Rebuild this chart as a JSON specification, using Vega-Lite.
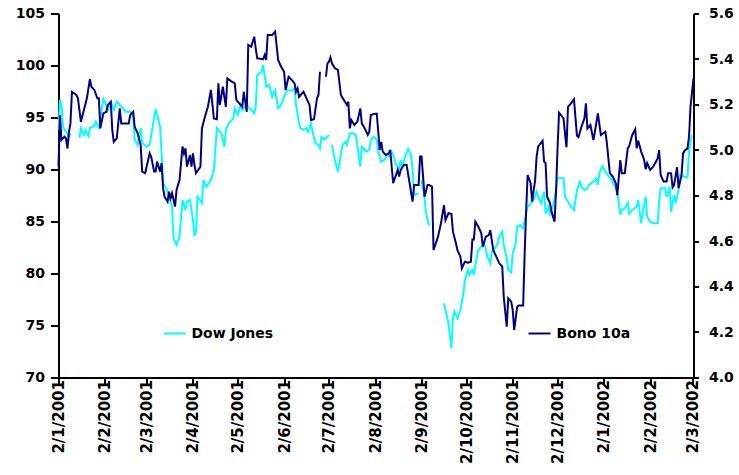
{
  "$schema": "https://vega.github.io/schema/vega-lite/v6.json",
  "width": 635,
  "height": 364,
  "autosize": {"type": "none"},
  "padding": {"left": 58.5, "top": 13.5, "right": 45.5, "bottom": 97.5},
  "background": "white",
  "config": {
    "view": {"stroke": null},
    "font": "DejaVu Sans",
    "axis": {
      "grid": false,
      "domainColor": "black",
      "domainWidth": 2,
      "tickColor": "black",
      "tickWidth": 2,
      "labelColor": "black",
      "labelFont": "DejaVu Sans",
      "labelFontSize": 14,
      "labelFontWeight": "bold",
      "title": null
    },
    "legend": {
      "labelFont": "DejaVu Sans",
      "labelFontSize": 14,
      "labelFontWeight": "bold",
      "labelColor": "black",
      "symbolType": "stroke",
      "symbolSize": 484,
      "symbolStrokeWidth": 2,
      "labelOffset": 5,
      "padding": 0
    }
  },
  "datasets": {
    "dow": [
      {"fecha": "2001-01-02", "dow": 93.80}, {"fecha": "2001-01-03", "dow": 96.68}, {"fecha": "2001-01-04", "dow": 96.20},
      {"fecha": "2001-01-05", "dow": 94.12}, {"fecha": "2001-01-06", "dow": 93.80}, {"fecha": "2001-01-08", "dow": 93.51},
      {"fecha": "2001-01-09", "dow": 93.03}, {"fecha": "2001-01-10", "dow": 93.51}, {"fecha": "2001-01-12", "dow": null},
      {"fecha": "2001-01-16", "dow": 93.03}, {"fecha": "2001-01-17", "dow": 93.99}, {"fecha": "2001-01-19", "dow": 93.32},
      {"fecha": "2001-01-20", "dow": 93.80}, {"fecha": "2001-01-22", "dow": 93.22}, {"fecha": "2001-01-23", "dow": 93.99},
      {"fecha": "2001-01-26", "dow": 94.18}, {"fecha": "2001-01-27", "dow": 94.60}, {"fecha": "2001-01-29", "dow": 93.99},
      {"fecha": "2001-01-31", "dow": 95.91}, {"fecha": "2001-02-01", "dow": 96.78}, {"fecha": "2001-02-03", "dow": 96.20},
      {"fecha": "2001-02-04", "dow": 95.72}, {"fecha": "2001-02-06", "dow": 96.52}, {"fecha": "2001-02-08", "dow": 95.72},
      {"fecha": "2001-02-10", "dow": 96.52}, {"fecha": "2001-02-12", "dow": 96.20}, {"fecha": "2001-02-14", "dow": 95.91},
      {"fecha": "2001-02-16", "dow": 95.56}, {"fecha": "2001-02-19", "dow": 95.56}, {"fecha": "2001-02-21", "dow": 95.08},
      {"fecha": "2001-02-22", "dow": 92.84}, {"fecha": "2001-02-24", "dow": 92.36}, {"fecha": "2001-02-26", "dow": 93.99},
      {"fecha": "2001-02-27", "dow": 92.55}, {"fecha": "2001-03-02", "dow": 92.19}, {"fecha": "2001-03-04", "dow": 92.36},
      {"fecha": "2001-03-06", "dow": 94.12}, {"fecha": "2001-03-08", "dow": 95.79}, {"fecha": "2001-03-11", "dow": 94.12},
      {"fecha": "2001-03-12", "dow": 91.59}, {"fecha": "2001-03-13", "dow": 88.70}, {"fecha": "2001-03-15", "dow": 88.22},
      {"fecha": "2001-03-16", "dow": 87.87}, {"fecha": "2001-03-18", "dow": 86.90}, {"fecha": "2001-03-19", "dow": 86.42},
      {"fecha": "2001-03-20", "dow": 83.38}, {"fecha": "2001-03-22", "dow": 82.74}, {"fecha": "2001-03-24", "dow": 83.54},
      {"fecha": "2001-03-26", "dow": 87.07}, {"fecha": "2001-03-28", "dow": 86.11}, {"fecha": "2001-03-29", "dow": 86.90},
      {"fecha": "2001-03-31", "dow": 87.07}, {"fecha": "2001-04-02", "dow": 85.14}, {"fecha": "2001-04-03", "dow": 83.70},
      {"fecha": "2001-04-04", "dow": 83.89}, {"fecha": "2001-04-05", "dow": 87.38}, {"fecha": "2001-04-08", "dow": 86.75},
      {"fecha": "2001-04-09", "dow": 88.99}, {"fecha": "2001-04-11", "dow": 88.35}, {"fecha": "2001-04-14", "dow": 88.99},
      {"fecha": "2001-04-16", "dow": 89.95}, {"fecha": "2001-04-18", "dow": 93.99}, {"fecha": "2001-04-21", "dow": 93.48},
      {"fecha": "2001-04-23", "dow": 92.19}, {"fecha": "2001-04-24", "dow": 93.80}, {"fecha": "2001-04-26", "dow": 94.44},
      {"fecha": "2001-04-29", "dow": 94.92}, {"fecha": "2001-04-30", "dow": 95.88}, {"fecha": "2001-05-02", "dow": 95.24},
      {"fecha": "2001-05-04", "dow": 96.20}, {"fecha": "2001-05-05", "dow": 95.72}, {"fecha": "2001-05-08", "dow": 96.20},
      {"fecha": "2001-05-10", "dow": 95.88}, {"fecha": "2001-05-13", "dow": 95.40}, {"fecha": "2001-05-14", "dow": 96.04},
      {"fecha": "2001-05-15", "dow": 99.09}, {"fecha": "2001-05-18", "dow": 99.40}, {"fecha": "2001-05-19", "dow": 100.05},
      {"fecha": "2001-05-21", "dow": 97.96}, {"fecha": "2001-05-23", "dow": 98.13}, {"fecha": "2001-05-25", "dow": 97.00},
      {"fecha": "2001-05-27", "dow": 97.64}, {"fecha": "2001-05-29", "dow": 95.88}, {"fecha": "2001-05-31", "dow": 96.20},
      {"fecha": "2001-06-02", "dow": 97.00}, {"fecha": "2001-06-04", "dow": 97.64}, {"fecha": "2001-06-07", "dow": 97.58},
      {"fecha": "2001-06-09", "dow": 97.81}, {"fecha": "2001-06-10", "dow": 96.20}, {"fecha": "2001-06-12", "dow": 94.44},
      {"fecha": "2001-06-13", "dow": 93.96}, {"fecha": "2001-06-15", "dow": 93.80}, {"fecha": "2001-06-17", "dow": 93.96},
      {"fecha": "2001-06-18", "dow": 93.63}, {"fecha": "2001-06-20", "dow": 94.44}, {"fecha": "2001-06-21", "dow": 93.63},
      {"fecha": "2001-06-23", "dow": 92.52}, {"fecha": "2001-06-25", "dow": 92.36}, {"fecha": "2001-06-26", "dow": 92.04},
      {"fecha": "2001-06-27", "dow": 93.15}, {"fecha": "2001-06-29", "dow": 92.90}, {"fecha": "2001-07-01", "dow": 93.15},
      {"fecha": "2001-07-02", "dow": 93.32}, {"fecha": "2001-07-03", "dow": null}, {"fecha": "2001-07-04", "dow": 92.36},
      {"fecha": "2001-07-06", "dow": 90.91}, {"fecha": "2001-07-08", "dow": 89.79}, {"fecha": "2001-07-09", "dow": 90.60},
      {"fecha": "2001-07-11", "dow": 92.36}, {"fecha": "2001-07-13", "dow": 92.67}, {"fecha": "2001-07-14", "dow": 92.36},
      {"fecha": "2001-07-16", "dow": 93.48}, {"fecha": "2001-07-18", "dow": 93.48}, {"fecha": "2001-07-20", "dow": 93.32},
      {"fecha": "2001-07-23", "dow": 90.27}, {"fecha": "2001-07-24", "dow": 92.19}, {"fecha": "2001-07-25", "dow": 92.04},
      {"fecha": "2001-07-27", "dow": 91.71}, {"fecha": "2001-07-29", "dow": 91.88}, {"fecha": "2001-07-30", "dow": 92.84},
      {"fecha": "2001-08-01", "dow": 93.15}, {"fecha": "2001-08-03", "dow": 92.84}, {"fecha": "2001-08-04", "dow": 91.71},
      {"fecha": "2001-08-06", "dow": 90.75}, {"fecha": "2001-08-08", "dow": 90.91}, {"fecha": "2001-08-10", "dow": 91.39},
      {"fecha": "2001-08-12", "dow": 91.23}, {"fecha": "2001-08-13", "dow": 91.71}, {"fecha": "2001-08-14", "dow": 91.39},
      {"fecha": "2001-08-16", "dow": 90.43}, {"fecha": "2001-08-18", "dow": 90.12}, {"fecha": "2001-08-19", "dow": 90.91},
      {"fecha": "2001-08-20", "dow": 90.12}, {"fecha": "2001-08-22", "dow": 91.23}, {"fecha": "2001-08-24", "dow": 91.97},
      {"fecha": "2001-08-26", "dow": 91.39}, {"fecha": "2001-08-27", "dow": 89.95}, {"fecha": "2001-08-28", "dow": 87.55},
      {"fecha": "2001-08-31", "dow": 87.71}, {"fecha": "2001-09-01", "dow": null}, {"fecha": "2001-09-02", "dow": 88.99},
      {"fecha": "2001-09-04", "dow": 87.23}, {"fecha": "2001-09-05", "dow": 85.79}, {"fecha": "2001-09-07", "dow": 84.60},
      {"fecha": "2001-09-11", "dow": null}, {"fecha": "2001-09-17", "dow": 77.13}, {"fecha": "2001-09-20", "dow": 75.21},
      {"fecha": "2001-09-22", "dow": 72.81}, {"fecha": "2001-09-23", "dow": 75.69}, {"fecha": "2001-09-24", "dow": 76.33},
      {"fecha": "2001-09-26", "dow": 75.69}, {"fecha": "2001-09-28", "dow": 76.49}, {"fecha": "2001-09-30", "dow": 78.10},
      {"fecha": "2001-10-01", "dow": 79.38}, {"fecha": "2001-10-03", "dow": 80.34}, {"fecha": "2001-10-04", "dow": 79.86},
      {"fecha": "2001-10-06", "dow": 80.34}, {"fecha": "2001-10-07", "dow": 79.86}, {"fecha": "2001-10-09", "dow": 81.62},
      {"fecha": "2001-10-10", "dow": 82.26}, {"fecha": "2001-10-12", "dow": 82.58}, {"fecha": "2001-10-14", "dow": 82.90},
      {"fecha": "2001-10-16", "dow": 81.62}, {"fecha": "2001-10-18", "dow": 80.98}, {"fecha": "2001-10-19", "dow": 82.10},
      {"fecha": "2001-10-21", "dow": 82.42}, {"fecha": "2001-10-23", "dow": 82.90}, {"fecha": "2001-10-24", "dow": 83.54},
      {"fecha": "2001-10-26", "dow": 84.02}, {"fecha": "2001-10-27", "dow": 82.74}, {"fecha": "2001-10-29", "dow": 81.46},
      {"fecha": "2001-10-30", "dow": 80.34}, {"fecha": "2001-11-01", "dow": 80.08}, {"fecha": "2001-11-02", "dow": 81.94},
      {"fecha": "2001-11-04", "dow": 82.90}, {"fecha": "2001-11-05", "dow": 84.50}, {"fecha": "2001-11-07", "dow": 84.66},
      {"fecha": "2001-11-09", "dow": 84.35}, {"fecha": "2001-11-10", "dow": 85.14}, {"fecha": "2001-11-12", "dow": 86.42},
      {"fecha": "2001-11-14", "dow": 86.75}, {"fecha": "2001-11-16", "dow": 87.07}, {"fecha": "2001-11-18", "dow": 87.87},
      {"fecha": "2001-11-19", "dow": 87.38}, {"fecha": "2001-11-21", "dow": 86.75}, {"fecha": "2001-11-23", "dow": 87.87},
      {"fecha": "2001-11-24", "dow": 85.79}, {"fecha": "2001-11-26", "dow": 86.42}, {"fecha": "2001-11-27", "dow": 85.72},
      {"fecha": "2001-11-29", "dow": 86.59}, {"fecha": "2001-11-30", "dow": 87.13}, {"fecha": "2001-12-02", "dow": 89.15},
      {"fecha": "2001-12-04", "dow": 89.15}, {"fecha": "2001-12-06", "dow": 89.15}, {"fecha": "2001-12-07", "dow": 87.38},
      {"fecha": "2001-12-09", "dow": 86.90}, {"fecha": "2001-12-11", "dow": 86.42}, {"fecha": "2001-12-13", "dow": 86.11},
      {"fecha": "2001-12-15", "dow": 88.03}, {"fecha": "2001-12-17", "dow": 88.83}, {"fecha": "2001-12-18", "dow": 88.35},
      {"fecha": "2001-12-20", "dow": 88.03}, {"fecha": "2001-12-22", "dow": 88.19}, {"fecha": "2001-12-23", "dow": 88.51},
      {"fecha": "2001-12-26", "dow": 88.83}, {"fecha": "2001-12-28", "dow": 89.15}, {"fecha": "2001-12-29", "dow": 88.51},
      {"fecha": "2001-12-30", "dow": 89.63}, {"fecha": "2002-01-01", "dow": 90.34}, {"fecha": "2002-01-03", "dow": 89.79},
      {"fecha": "2002-01-05", "dow": 89.38}, {"fecha": "2002-01-07", "dow": 89.06}, {"fecha": "2002-01-09", "dow": 88.51},
      {"fecha": "2002-01-11", "dow": 87.87}, {"fecha": "2002-01-13", "dow": 85.63}, {"fecha": "2002-01-14", "dow": 86.11},
      {"fecha": "2002-01-16", "dow": 86.27}, {"fecha": "2002-01-18", "dow": 86.81}, {"fecha": "2002-01-19", "dow": 85.72},
      {"fecha": "2002-01-21", "dow": 86.11}, {"fecha": "2002-01-24", "dow": 86.42}, {"fecha": "2002-01-25", "dow": 87.07},
      {"fecha": "2002-01-27", "dow": 84.83}, {"fecha": "2002-01-28", "dow": 85.79}, {"fecha": "2002-01-30", "dow": 87.38},
      {"fecha": "2002-01-31", "dow": 85.46}, {"fecha": "2002-02-02", "dow": 84.98}, {"fecha": "2002-02-04", "dow": 84.83},
      {"fecha": "2002-02-07", "dow": 84.83}, {"fecha": "2002-02-08", "dow": 86.90}, {"fecha": "2002-02-09", "dow": 88.19},
      {"fecha": "2002-02-12", "dow": 88.19}, {"fecha": "2002-02-13", "dow": 87.38}, {"fecha": "2002-02-15", "dow": 88.35},
      {"fecha": "2002-02-16", "dow": 85.94}, {"fecha": "2002-02-18", "dow": 87.55}, {"fecha": "2002-02-19", "dow": 86.75},
      {"fecha": "2002-02-21", "dow": 88.03}, {"fecha": "2002-02-22", "dow": 89.47}, {"fecha": "2002-02-25", "dow": 89.31},
      {"fecha": "2002-02-27", "dow": 89.25}, {"fecha": "2002-02-28", "dow": 91.71}, {"fecha": "2002-03-01", "dow": 92.84},
      {"fecha": "2002-03-02", "dow": 93.32}
    ],
    "bono": [
      {"fecha": "2001-01-02", "bono": 4.927}, {"fecha": "2001-01-03", "bono": 5.154}, {"fecha": "2001-01-04", "bono": 5.044},
      {"fecha": "2001-01-06", "bono": 5.058}, {"fecha": "2001-01-07", "bono": 5.051}, {"fecha": "2001-01-08", "bono": 5.007},
      {"fecha": "2001-01-09", "bono": 5.080}, {"fecha": "2001-01-10", "bono": 5.117}, {"fecha": "2001-01-11", "bono": 5.256},
      {"fecha": "2001-01-14", "bono": 5.242}, {"fecha": "2001-01-15", "bono": 5.227}, {"fecha": "2001-01-17", "bono": 5.124},
      {"fecha": "2001-01-19", "bono": 5.176}, {"fecha": "2001-01-21", "bono": 5.227}, {"fecha": "2001-01-23", "bono": 5.311},
      {"fecha": "2001-01-24", "bono": 5.278}, {"fecha": "2001-01-26", "bono": 5.264}, {"fecha": "2001-01-28", "bono": 5.227},
      {"fecha": "2001-01-29", "bono": 5.227}, {"fecha": "2001-01-30", "bono": 5.095}, {"fecha": "2001-02-01", "bono": 5.161},
      {"fecha": "2001-02-03", "bono": 5.168}, {"fecha": "2001-02-04", "bono": 5.198}, {"fecha": "2001-02-06", "bono": 5.212},
      {"fecha": "2001-02-07", "bono": 5.088}, {"fecha": "2001-02-08", "bono": 5.036}, {"fecha": "2001-02-10", "bono": 5.051},
      {"fecha": "2001-02-12", "bono": 5.183}, {"fecha": "2001-02-13", "bono": 5.117}, {"fecha": "2001-02-15", "bono": 5.117},
      {"fecha": "2001-02-18", "bono": 5.117}, {"fecha": "2001-02-19", "bono": 5.154}, {"fecha": "2001-02-21", "bono": 5.168},
      {"fecha": "2001-02-22", "bono": 5.102}, {"fecha": "2001-02-24", "bono": 5.073}, {"fecha": "2001-02-26", "bono": 5.022},
      {"fecha": "2001-02-27", "bono": 4.905}, {"fecha": "2001-03-01", "bono": 4.898}, {"fecha": "2001-03-04", "bono": 4.985},
      {"fecha": "2001-03-05", "bono": 4.971}, {"fecha": "2001-03-07", "bono": 4.905}, {"fecha": "2001-03-08", "bono": 4.905},
      {"fecha": "2001-03-09", "bono": 4.949}, {"fecha": "2001-03-11", "bono": 4.905}, {"fecha": "2001-03-12", "bono": 4.942},
      {"fecha": "2001-03-13", "bono": 4.832}, {"fecha": "2001-03-14", "bono": 4.795}, {"fecha": "2001-03-16", "bono": 4.773},
      {"fecha": "2001-03-17", "bono": 4.817}, {"fecha": "2001-03-18", "bono": 4.788}, {"fecha": "2001-03-19", "bono": 4.810},
      {"fecha": "2001-03-21", "bono": 4.751}, {"fecha": "2001-03-22", "bono": 4.824}, {"fecha": "2001-03-24", "bono": 4.868},
      {"fecha": "2001-03-26", "bono": 5.015}, {"fecha": "2001-03-27", "bono": 4.985}, {"fecha": "2001-03-28", "bono": 5.007},
      {"fecha": "2001-03-29", "bono": 4.927}, {"fecha": "2001-03-31", "bono": 4.978}, {"fecha": "2001-04-01", "bono": 4.927},
      {"fecha": "2001-04-02", "bono": 4.985}, {"fecha": "2001-04-03", "bono": 4.934}, {"fecha": "2001-04-04", "bono": 4.898},
      {"fecha": "2001-04-07", "bono": 4.927}, {"fecha": "2001-04-08", "bono": 5.095}, {"fecha": "2001-04-10", "bono": 5.146},
      {"fecha": "2001-04-12", "bono": 5.190}, {"fecha": "2001-04-14", "bono": 5.264}, {"fecha": "2001-04-16", "bono": 5.139},
      {"fecha": "2001-04-18", "bono": 5.135}, {"fecha": "2001-04-19", "bono": 5.293}, {"fecha": "2001-04-20", "bono": 5.198},
      {"fecha": "2001-04-22", "bono": 5.278}, {"fecha": "2001-04-24", "bono": 5.190}, {"fecha": "2001-04-25", "bono": 5.315},
      {"fecha": "2001-04-28", "bono": 5.300}, {"fecha": "2001-04-30", "bono": 5.293}, {"fecha": "2001-05-01", "bono": 5.220},
      {"fecha": "2001-05-03", "bono": 5.205}, {"fecha": "2001-05-05", "bono": 5.190}, {"fecha": "2001-05-06", "bono": 5.256},
      {"fecha": "2001-05-08", "bono": 5.168}, {"fecha": "2001-05-09", "bono": 5.462}, {"fecha": "2001-05-11", "bono": 5.454},
      {"fecha": "2001-05-13", "bono": 5.498}, {"fecha": "2001-05-14", "bono": 5.447}, {"fecha": "2001-05-15", "bono": 5.403},
      {"fecha": "2001-05-19", "bono": 5.399}, {"fecha": "2001-05-20", "bono": 5.418}, {"fecha": "2001-05-21", "bono": 5.396},
      {"fecha": "2001-05-22", "bono": 5.505}, {"fecha": "2001-05-25", "bono": 5.505}, {"fecha": "2001-05-27", "bono": 5.520},
      {"fecha": "2001-05-29", "bono": 5.396}, {"fecha": "2001-05-31", "bono": 5.366}, {"fecha": "2001-06-02", "bono": 5.344},
      {"fecha": "2001-06-03", "bono": 5.264}, {"fecha": "2001-06-05", "bono": 5.322}, {"fecha": "2001-06-07", "bono": 5.308},
      {"fecha": "2001-06-09", "bono": 5.293}, {"fecha": "2001-06-10", "bono": 5.256}, {"fecha": "2001-06-11", "bono": 5.271},
      {"fecha": "2001-06-12", "bono": 5.234}, {"fecha": "2001-06-15", "bono": 5.256}, {"fecha": "2001-06-17", "bono": 5.227},
      {"fecha": "2001-06-19", "bono": 5.198}, {"fecha": "2001-06-20", "bono": 5.132}, {"fecha": "2001-06-22", "bono": 5.135},
      {"fecha": "2001-06-24", "bono": 5.227}, {"fecha": "2001-06-25", "bono": 5.242}, {"fecha": "2001-06-26", "bono": 5.344},
      {"fecha": "2001-06-28", "bono": null}, {"fecha": "2001-06-30", "bono": 5.322}, {"fecha": "2001-07-01", "bono": 5.381},
      {"fecha": "2001-07-02", "bono": 5.388}, {"fecha": "2001-07-03", "bono": 5.407}, {"fecha": "2001-07-04", "bono": 5.381},
      {"fecha": "2001-07-06", "bono": 5.359}, {"fecha": "2001-07-08", "bono": 5.352}, {"fecha": "2001-07-10", "bono": 5.242},
      {"fecha": "2001-07-12", "bono": 5.220}, {"fecha": "2001-07-14", "bono": 5.198}, {"fecha": "2001-07-15", "bono": 5.212},
      {"fecha": "2001-07-16", "bono": 5.095}, {"fecha": "2001-07-17", "bono": 5.132}, {"fecha": "2001-07-19", "bono": 5.110},
      {"fecha": "2001-07-21", "bono": 5.124}, {"fecha": "2001-07-23", "bono": 5.183}, {"fecha": "2001-07-24", "bono": 5.117},
      {"fecha": "2001-07-26", "bono": 5.095}, {"fecha": "2001-07-28", "bono": 5.066}, {"fecha": "2001-07-29", "bono": 5.080},
      {"fecha": "2001-07-30", "bono": 5.154}, {"fecha": "2001-08-01", "bono": 5.158}, {"fecha": "2001-08-03", "bono": 5.160},
      {"fecha": "2001-08-05", "bono": 5.000}, {"fecha": "2001-08-06", "bono": 5.036}, {"fecha": "2001-08-07", "bono": 4.993},
      {"fecha": "2001-08-09", "bono": 4.978}, {"fecha": "2001-08-11", "bono": 4.985}, {"fecha": "2001-08-12", "bono": 5.000},
      {"fecha": "2001-08-14", "bono": 4.854}, {"fecha": "2001-08-17", "bono": 4.912}, {"fecha": "2001-08-18", "bono": 4.883},
      {"fecha": "2001-08-19", "bono": 4.912}, {"fecha": "2001-08-21", "bono": 4.934}, {"fecha": "2001-08-23", "bono": 4.934},
      {"fecha": "2001-08-25", "bono": 4.854}, {"fecha": "2001-08-27", "bono": 4.773}, {"fecha": "2001-08-28", "bono": 4.846},
      {"fecha": "2001-08-31", "bono": 4.846}, {"fecha": "2001-09-01", "bono": 4.971}, {"fecha": "2001-09-02", "bono": 4.971},
      {"fecha": "2001-09-04", "bono": 4.795}, {"fecha": "2001-09-06", "bono": 4.846}, {"fecha": "2001-09-07", "bono": 4.846},
      {"fecha": "2001-09-09", "bono": 4.839}, {"fecha": "2001-09-10", "bono": 4.560}, {"fecha": "2001-09-13", "bono": 4.619},
      {"fecha": "2001-09-15", "bono": 4.678}, {"fecha": "2001-09-17", "bono": 4.758}, {"fecha": "2001-09-18", "bono": 4.692},
      {"fecha": "2001-09-20", "bono": 4.722}, {"fecha": "2001-09-22", "bono": 4.719}, {"fecha": "2001-09-23", "bono": 4.641},
      {"fecha": "2001-09-25", "bono": 4.590}, {"fecha": "2001-09-26", "bono": 4.560}, {"fecha": "2001-09-28", "bono": 4.531},
      {"fecha": "2001-09-29", "bono": 4.480}, {"fecha": "2001-10-01", "bono": 4.509}, {"fecha": "2001-10-03", "bono": 4.505},
      {"fecha": "2001-10-05", "bono": 4.509}, {"fecha": "2001-10-06", "bono": 4.607}, {"fecha": "2001-10-07", "bono": 4.607},
      {"fecha": "2001-10-08", "bono": 4.685}, {"fecha": "2001-10-10", "bono": 4.663}, {"fecha": "2001-10-12", "bono": 4.634},
      {"fecha": "2001-10-13", "bono": 4.575}, {"fecha": "2001-10-15", "bono": 4.619}, {"fecha": "2001-10-17", "bono": 4.626},
      {"fecha": "2001-10-18", "bono": 4.648}, {"fecha": "2001-10-20", "bono": 4.560}, {"fecha": "2001-10-22", "bono": 4.531},
      {"fecha": "2001-10-24", "bono": 4.502}, {"fecha": "2001-10-26", "bono": 4.487}, {"fecha": "2001-10-27", "bono": 4.355},
      {"fecha": "2001-10-29", "bono": 4.223}, {"fecha": "2001-10-30", "bono": 4.348}, {"fecha": "2001-11-01", "bono": 4.333},
      {"fecha": "2001-11-02", "bono": 4.297}, {"fecha": "2001-11-03", "bono": 4.209}, {"fecha": "2001-11-05", "bono": 4.311},
      {"fecha": "2001-11-06", "bono": 4.316}, {"fecha": "2001-11-09", "bono": 4.316}, {"fecha": "2001-11-10", "bono": 4.546},
      {"fecha": "2001-11-11", "bono": 4.736}, {"fecha": "2001-11-12", "bono": 4.890}, {"fecha": "2001-11-14", "bono": 4.854},
      {"fecha": "2001-11-15", "bono": 4.773}, {"fecha": "2001-11-17", "bono": 4.868}, {"fecha": "2001-11-18", "bono": 4.971},
      {"fecha": "2001-11-19", "bono": 5.015}, {"fecha": "2001-11-22", "bono": 5.041}, {"fecha": "2001-11-23", "bono": 4.949},
      {"fecha": "2001-11-24", "bono": 4.942}, {"fecha": "2001-11-25", "bono": 4.795}, {"fecha": "2001-11-27", "bono": 4.766},
      {"fecha": "2001-11-28", "bono": 4.729}, {"fecha": "2001-11-30", "bono": 4.685}, {"fecha": "2001-12-01", "bono": 4.817},
      {"fecha": "2001-12-02", "bono": 5.007}, {"fecha": "2001-12-03", "bono": 5.164}, {"fecha": "2001-12-06", "bono": 5.139},
      {"fecha": "2001-12-07", "bono": 5.073}, {"fecha": "2001-12-08", "bono": 5.012}, {"fecha": "2001-12-09", "bono": 5.190},
      {"fecha": "2001-12-11", "bono": 5.205}, {"fecha": "2001-12-13", "bono": 5.223}, {"fecha": "2001-12-15", "bono": 5.062},
      {"fecha": "2001-12-16", "bono": 5.056}, {"fecha": "2001-12-18", "bono": 5.102}, {"fecha": "2001-12-20", "bono": 5.139},
      {"fecha": "2001-12-21", "bono": 5.205}, {"fecha": "2001-12-22", "bono": 5.095}, {"fecha": "2001-12-24", "bono": 5.110},
      {"fecha": "2001-12-26", "bono": 5.044}, {"fecha": "2001-12-27", "bono": 5.080}, {"fecha": "2001-12-29", "bono": 5.161},
      {"fecha": "2001-12-31", "bono": 5.066}, {"fecha": "2002-01-03", "bono": 5.080}, {"fecha": "2002-01-04", "bono": 5.032},
      {"fecha": "2002-01-06", "bono": 4.898}, {"fecha": "2002-01-08", "bono": 4.883}, {"fecha": "2002-01-10", "bono": 4.854},
      {"fecha": "2002-01-11", "bono": 4.802}, {"fecha": "2002-01-13", "bono": 4.956}, {"fecha": "2002-01-14", "bono": 4.898},
      {"fecha": "2002-01-16", "bono": 4.898}, {"fecha": "2002-01-18", "bono": 5.007}, {"fecha": "2002-01-19", "bono": 5.018},
      {"fecha": "2002-01-21", "bono": 5.066}, {"fecha": "2002-01-23", "bono": 5.091}, {"fecha": "2002-01-24", "bono": 5.007},
      {"fecha": "2002-01-25", "bono": 5.041}, {"fecha": "2002-01-27", "bono": 4.993}, {"fecha": "2002-01-29", "bono": 4.956},
      {"fecha": "2002-01-30", "bono": 4.915}, {"fecha": "2002-01-31", "bono": 4.942}, {"fecha": "2002-02-02", "bono": 4.912},
      {"fecha": "2002-02-04", "bono": 4.927}, {"fecha": "2002-02-07", "bono": 4.963}, {"fecha": "2002-02-08", "bono": 5.000},
      {"fecha": "2002-02-09", "bono": 4.890}, {"fecha": "2002-02-11", "bono": 4.861}, {"fecha": "2002-02-13", "bono": 4.861},
      {"fecha": "2002-02-14", "bono": 4.898}, {"fecha": "2002-02-16", "bono": 4.898}, {"fecha": "2002-02-17", "bono": 4.836},
      {"fecha": "2002-02-18", "bono": 4.846}, {"fecha": "2002-02-20", "bono": 4.924}, {"fecha": "2002-02-21", "bono": 4.832},
      {"fecha": "2002-02-23", "bono": 4.890}, {"fecha": "2002-02-24", "bono": 4.985}, {"fecha": "2002-02-25", "bono": 4.997},
      {"fecha": "2002-02-27", "bono": 5.007}, {"fecha": "2002-02-28", "bono": 5.058}, {"fecha": "2002-03-01", "bono": 5.190},
      {"fecha": "2002-03-03", "bono": 5.315}
    ]
  },
  "encoding": {
    "x": {
      "field": "fecha",
      "type": "temporal",
      "scale": {"domain": [{"year": 2001, "month": 1, "date": 2}, {"year": 2002, "month": 3, "date": 3}]},
      "axis": {
        "values": [
          {"year": 2001, "month": 1, "date": 2}, {"year": 2001, "month": 2, "date": 2}, {"year": 2001, "month": 3, "date": 2},
          {"year": 2001, "month": 4, "date": 2}, {"year": 2001, "month": 5, "date": 2}, {"year": 2001, "month": 6, "date": 2},
          {"year": 2001, "month": 7, "date": 2}, {"year": 2001, "month": 8, "date": 2}, {"year": 2001, "month": 9, "date": 2},
          {"year": 2001, "month": 10, "date": 2}, {"year": 2001, "month": 11, "date": 2}, {"year": 2001, "month": 12, "date": 2},
          {"year": 2002, "month": 1, "date": 2}, {"year": 2002, "month": 2, "date": 2}, {"year": 2002, "month": 3, "date": 2}
        ],
        "format": "%-d/%-m/%Y",
        "labelAngle": 270,
        "labelAlign": "right",
        "labelBaseline": "middle",
        "labelOverlap": false,
        "labelFontSize": 15,
        "tickSize": 6,
        "labelPadding": -4
      }
    }
  },
  "layer": [
    {
      "data": {"name": "dow"},
      "mark": {"type": "line", "strokeWidth": 2, "invalid": "break-paths-show-domains"},
      "encoding": {
        "y": {
          "field": "dow",
          "type": "quantitative",
          "scale": {"domain": [70, 105], "nice": false, "zero": false},
          "axis": {"orient": "left", "values": [70, 75, 80, 85, 90, 95, 100, 105], "format": "d", "tickSize": 8, "labelPadding": 6}
        },
        "color": {
          "datum": "Dow Jones",
          "scale": {"range": ["#00FFFF"]},
          "legend": {"orient": "none", "legendX": 104, "legendY": 308, "title": null}
        }
      }
    },
    {
      "data": {"name": "bono"},
      "mark": {"type": "line", "strokeWidth": 2, "invalid": "break-paths-show-domains"},
      "encoding": {
        "y": {
          "field": "bono",
          "type": "quantitative",
          "scale": {"domain": [4.0, 5.6], "nice": false, "zero": false},
          "axis": {"orient": "right", "values": [4.0, 4.2, 4.4, 4.6, 4.8, 5.0, 5.2, 5.4, 5.6], "format": ".1f", "tickSize": 5, "labelPadding": 10}
        },
        "color": {
          "datum": "Bono 10a",
          "scale": {"range": ["#000080"]},
          "legend": {"orient": "none", "legendX": 469, "legendY": 308, "title": null}
        }
      }
    }
  ],
  "resolve": {"scale": {"y": "independent", "color": "independent"}}
}
